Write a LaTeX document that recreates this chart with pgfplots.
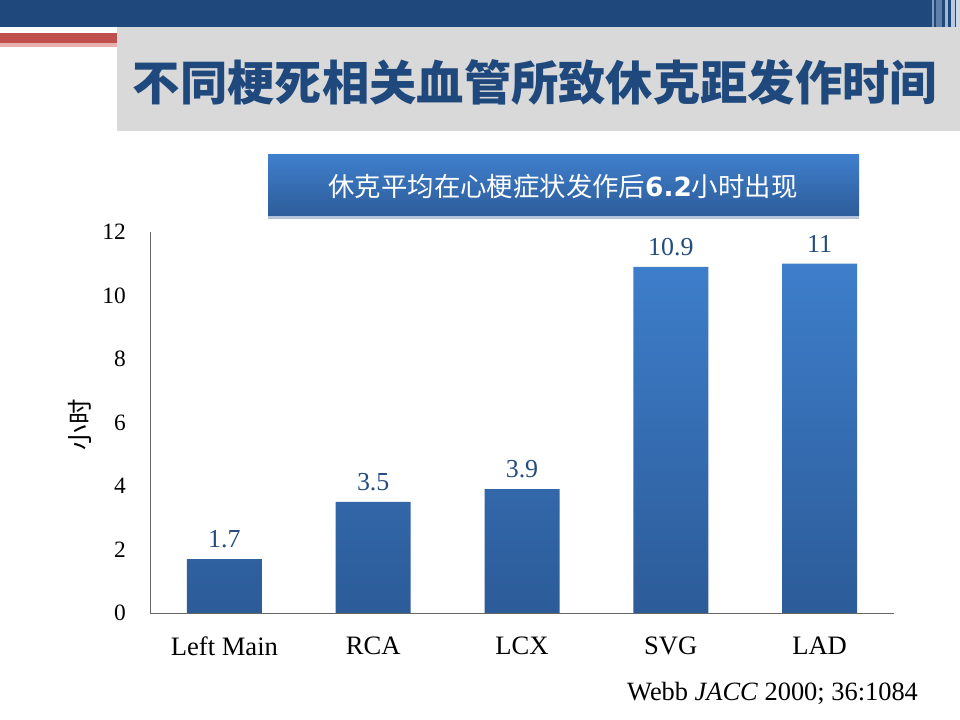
\documentclass[border=0pt]{standalone}
\usepackage{fontspec}
\setmainfont{Liberation Serif}
\newfontfamily\cjk{Noto Sans CJK SC}
\newfontfamily\dejab{DejaVu Sans}
\usepackage{pgfplots}
\pgfplotsset{compat=1.18}
\definecolor{bandblue}{HTML}{1F497D}
\definecolor{titleblue}{HTML}{1F497D}
\definecolor{greybox}{HTML}{D9D9D9}
\definecolor{redline}{HTML}{C0504D}
\definecolor{pinkline}{HTML}{E6B0AE}
\definecolor{banTop}{HTML}{3F7FCC}
\definecolor{banBot}{HTML}{2D5C99}
\definecolor{barTop}{HTML}{3E7ECB}
\definecolor{barBot}{HTML}{2C5B98}
\definecolor{shadow}{HTML}{B4C3D9}
\definecolor{axisgray}{HTML}{666666}
\definecolor{labblue}{HTML}{254C80}
\definecolor{strA}{HTML}{7F9BC0}
\definecolor{strB}{HTML}{5F7FAA}
\definecolor{strC}{HTML}{A5B8D2}
\definecolor{strD}{HTML}{B9C9DE}
\definecolor{strE}{HTML}{CCD8E8}
\begin{document}
\begin{tikzpicture}
\useasboundingbox (0,0) rectangle (960bp,720bp);
\fill[white] (0,0) rectangle (960bp,720bp);
% top band
\fill[bandblue] (0,693bp) rectangle (960bp,720bp);
\fill[strA] (932bp,688bp) rectangle (933.5bp,720bp);
\fill[strB] (936bp,688bp) rectangle (942bp,720bp);
\fill[strC] (945bp,688bp) rectangle (948bp,720bp);
\fill[strD] (951bp,688bp) rectangle (955bp,720bp);
\fill[strE] (956bp,688bp) rectangle (960bp,720bp);
% red line
\fill[redline] (0,677bp) rectangle (117bp,687bp);
\fill[pinkline] (0,673bp) rectangle (117bp,677bp);
% grey title box
\fill[greybox] (117bp,589bp) rectangle (960bp,693bp);
\node[font=\cjk\bfseries\fontsize{47.5}{50}\selectfont, text=titleblue, inner sep=0pt] at (535bp,638bp) {不同梗死相关血管所致休克距发作时间};
% banner
\fill[shadow] (268bp,501bp) rectangle (859bp,504bp);
\shade[top color=banTop, bottom color=banBot] (268bp,504bp) rectangle (859bp,565bp);
\node[font=\cjk\fontsize{26.5}{30}\selectfont, text=white, inner sep=0pt] at (563bp,534bp) {休克平均在心梗症状发作后{\dejab\bfseries 6.2}小时出现};
% y label
\node[font=\cjk\fontsize{25.5}{28}\selectfont, rotate=90, inner sep=0pt] at (80bp,295bp) {小时};
\begin{axis}[
  at={(150bp,107bp)}, anchor=south west,
  scale only axis, width=744bp, height=381bp,
  xmin=-0.5, xmax=4.5, ymin=0, ymax=12,
  axis x line*=bottom, axis y line*=left,
  axis line style={draw=axisgray, line width=0.9bp, -},
  xtick={0,1,2,3,4}, xticklabels={Left Main,RCA,LCX,SVG,LAD},
  ytick={0,2,4,6,8,10,12},
  major tick length=0pt,
  xticklabel style={font=\fontsize{26.7}{30}\selectfont, inner sep=0pt, anchor=north, yshift=-24bp},
  yticklabel style={font=\fontsize{23.5}{28}\selectfont, inner sep=0pt, anchor=east, xshift=-24bp},
  /pgf/number format/assume math mode=true,
  clip=false,
]
\addplot[ybar, bar width=75bp, draw=none, top color=barTop, bottom color=barBot]
  coordinates {(0,1.7) (1,3.5) (2,3.9) (3,10.9) (4,11)};
\addplot[draw=none, mark=none, nodes near coords,
  every node near coord/.style={anchor=south, inner sep=0pt, yshift=11bp, text=labblue, font=\fontsize{26}{30}\selectfont}]
  coordinates {(0,1.7) (1,3.5) (2,3.9) (3,10.9) (4,11)};
\end{axis}
\node[anchor=base west, inner sep=0pt, font=\fontsize{26.5}{30}\selectfont] at (627bp,20bp) {Webb \textit{JACC} 2000; 36:1084};
\end{tikzpicture}
\end{document}
